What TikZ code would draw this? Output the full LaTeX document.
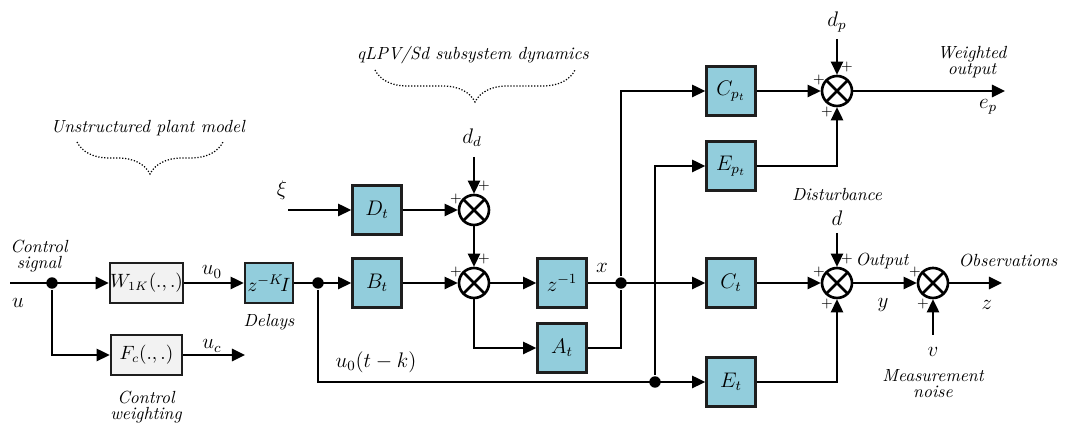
\documentclass[tikz,border=0pt]{standalone}
\usepackage{amsmath,amssymb}
\usepackage{tikz}
\usetikzlibrary{arrows.meta, positioning, calc, decorations.pathreplacing}
\definecolor{blockblue}{RGB}{146,205,220}
\definecolor{blockgray}{RGB}{242,242,242}
\definecolor{edgegray}{RGB}{30,30,30}

\begin{document}
\begin{tikzpicture}[x=0.02cm, y=-0.02cm, line width=1.3pt,
  >={Triangle[length=7.5pt,width=7pt]},
  blk/.style={draw=edgegray, line width=1.5pt, fill=blockblue, minimum width=0.98cm, minimum height=0.98cm, inner sep=0pt, font=\large},
  gblk/.style={draw=edgegray, line width=1.5pt, fill=blockgray, minimum width=1.42cm, minimum height=0.8cm, inner sep=0pt, font=\fontsize{10.5}{12}\selectfont},
  sumnode/.style={circle, draw, line width=1.5pt, minimum size=0.6cm, inner sep=0pt,
    path picture={\draw[line width=1.5pt] (path picture bounding box.north west) -- (path picture bounding box.south east)
      (path picture bounding box.north east) -- (path picture bounding box.south west);}},
  lbl/.style={font=\itshape, align=center, inner sep=1pt},
  sig/.style={font=\large, inner sep=1pt},
  plus/.style={font=\footnotesize, inner sep=0pt},
  dot/.style={circle, fill, inner sep=0pt, minimum size=6.5pt}]
  \useasboundingbox (0,0) rectangle (1066,428);
  % Unstructured part
  \node[gblk] (W) at (146.5,283) {$W_{1K}(.,.)$};
  \node[gblk] (F) at (146.5,355) {$F_c(.,.)$};
  \node[blk, minimum width=0.96cm, minimum height=0.8cm, font=\fontsize{11}{13}\selectfont] (Dl) at (269,283) {$z^{-K}\!I$};
  \coordinate (uin) at (10,283);
  \node[dot] (j0) at (52,283) {};
  \coordinate (ucend) at (245,355);
  % qLPV/Sd part
  \node[blk] (Dt) at (377,210) {$D_t$};
  \node[blk] (Bt) at (377,283) {$B_t$};
  \node[sumnode] (s1) at (474,210) {};
  \node[sumnode] (s2) at (474,283) {};
  \node[blk] (Z1) at (562,283) {$z^{-1}$};
  \node[blk] (At) at (562,348) {$A_t$};
  \coordinate (xi) at (288,210);
  \coordinate (dd) at (474,157);
  \node[dot] (j1) at (318,283) {};
  \node[dot] (j2) at (621,283) {};
  \node[dot] (j3) at (655,382) {};
  % Output part
  \node[blk] (Cp) at (731,91) {$C_{p_t}$};
  \node[blk] (Ep) at (731,166) {$E_{p_t}$};
  \node[blk] (Ct) at (731,283) {$C_t$};
  \node[blk] (Et) at (731,382) {$E_t$};
  \node[sumnode] (s3) at (837,91) {};
  \node[sumnode] (s4) at (837,283) {};
  \node[sumnode] (s5) at (933,283) {};
  \coordinate (dp) at (837,39);
  \coordinate (dist) at (837,233);
  \coordinate (noise) at (933,335);
  \coordinate (epend) at (1005,91);
  \coordinate (zend) at (1002,283);
  % Connectors
  \draw[->] (uin) -- (W);
  \draw[->] (j0) |- (F);
  \draw[->] (W) -- (Dl);
  \draw[->] (F) -- (ucend);
  \draw[->] (Dl) -- (Bt);
  \draw[->] (xi) -- (Dt);
  \draw[->] (Dt) -- (s1);
  \draw[->] (dd) -- (s1);
  \draw[->] (s1) -- (s2);
  \draw[->] (Bt) -- (s2);
  \draw[->] (s2) -- (Z1);
  \draw[->] (s2) |- (At);
  \draw (At) -| (j2);
  \draw[->] (Z1) -- (Ct);
  \draw[->] (j2) |- (Cp);
  \draw[->] (j1) |- (Et);
  \draw[->] (j3) |- (Ep);
  \draw[->] (Cp) -- (s3);
  \draw[->] (Ep) -| (s3);
  \draw[->] (dp) -- (s3);
  \draw[->] (s3) -- (epend);
  \draw[->] (Ct) -- (s4);
  \draw[->] (Et) -| (s4);
  \draw[->] (dist) -- (s4);
  \draw[->] (s4) -- (s5);
  \draw[->] (noise) -- (s5);
  \draw[->] (s5) -- (zend);
  % Plus signs
  \foreach \s in {s1,s2,s3,s4,s5} {
    \node[plus] at ($(\s)+(-18,-11)$) {+};
  }
  \foreach \s in {s1,s2,s3,s4} {
    \node[plus] at ($(\s)+(10,-24)$) {+};
  }
  \foreach \s in {s3,s4,s5} {
    \node[plus] at ($(\s)+(-10,21)$) {+};
  }
  % Labels
  \node[lbl] (tsig) at (39,256) {Control\\[-3pt]signal};
  \node[sig] (tu) at (18,303) {$u$};
  \node[sig] (tu0) at (212,272) {$u_0$};
  \node[sig] (tuc) at (212,346) {$u_c$};
  \node[lbl] (tdel) at (269,322) {Delays};
  \node[lbl] (tcw) at (146,407) {Control\\[-3pt]weighting};
  \node[sig] (txi) at (282,190) {$\xi$};
  \node[sig] (tdd) at (472,138) {$d_d$};
  \node[sig] (tx) at (602,268) {$x$};
  \node[sig] (tu0k) at (376,362) {$u_0(t-k)$};
  \node[sig] (tdp) at (837,22) {$d_p$};
  \node[lbl] (tw) at (972,62) {Weighted\\[-3pt]output};
  \node[sig] (tep) at (988,107) {$e_p$};
  \node[lbl] (tdist) at (837,195) {Disturbance};
  \node[sig] (td) at (837,218) {$d$};
  \node[lbl] (tout) at (882,261) {Output};
  \node[sig] (ty) at (883,305) {$y$};
  \node[lbl] (tobs) at (1008,261) {Observations};
  \node[sig] (tz) at (987,305) {$z$};
  \node[sig] (tv) at (933,352) {$v$};
  \node[lbl] (tnoise) at (933,384) {Measurement\\[-3pt]noise};
  % Braces
  \node[lbl] (tunst) at (148,128) {Unstructured plant model};
  \draw[densely dotted, line width=0.7pt, decorate, decoration={brace, mirror, amplitude=0.64cm}] (77,142) -- (223,142);
  \node[lbl] (tqlpv) at (473,55) {qLPV/Sd subsystem dynamics};
  \draw[densely dotted, line width=0.7pt, decorate, decoration={brace, mirror, amplitude=0.64cm}] (375,70) -- (575,70);
\end{tikzpicture}
\end{document}
